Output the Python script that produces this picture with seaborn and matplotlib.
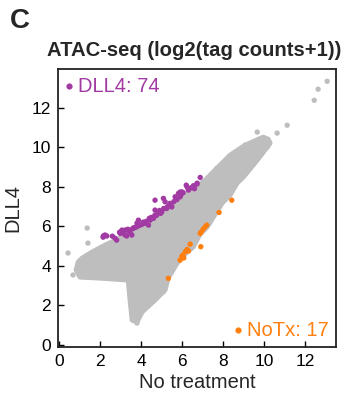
import matplotlib
matplotlib.use("Agg")
import matplotlib.pyplot as plt
import seaborn as sns
import pandas as pd

# ---- data ----
# outline of the dense grey cloud of all peaks
cloud_x = [0.93, 1.12, 1.61, 2.24, 3.07, 4.20, 5.17, 6.00, 7.12, 7.61, 8.34, 9.07, 9.95, 10.20,
           10.29, 9.66, 8.98, 8.68, 8.34, 7.95, 7.22, 6.88, 6.54, 6.24, 5.76, 5.32, 5.17, 4.68,
           4.05, 3.80, 3.56, 3.46, 3.37, 1.98, 1.02, 0.83]
cloud_y = [4.19, 4.39, 4.70, 5.05, 5.45, 5.96, 6.82, 7.47, 8.33, 8.84, 9.60, 10.10, 10.51, 10.40,
           10.20, 9.34, 8.48, 8.18, 7.58, 7.17, 5.96, 5.61, 4.95, 4.70, 4.14, 3.38, 2.78, 2.27,
           1.67, 1.16, 1.26, 2.27, 3.28, 3.38, 3.43, 3.79]

# grey points outside / on the edge of the cloud
grey_x = [13.07, 12.63, 12.44, 11.12, 10.63, 9.66, 10.20, 10.15, 9.07, 10.05, 7.70,
          0.44, 0.68, 1.37, 1.41, 5.07, 5.17, 4.44, 3.95, 3.71, 3.80]
grey_y = [13.33, 12.93, 12.37, 11.11, 10.71, 10.76, 10.25, 10.00, 10.10, 10.30, 8.94,
          4.65, 3.54, 5.91, 5.15, 2.68, 2.93, 2.27, 1.67, 1.26, 1.11]

# DLL4-specific peaks (74)
dll4_x = [6.88, 6.72, 6.20, 6.31, 5.99, 5.82, 5.90, 5.66, 4.68, 5.09, 5.17, 5.41, 5.50, 5.25,
          5.01, 4.68, 4.68, 4.60, 4.44, 4.20, 4.36, 3.87, 3.95, 3.79, 3.62, 3.46, 3.55, 3.22,
          3.06, 3.22, 3.30, 2.98, 2.81, 2.33, 2.16, 6.73, 6.24, 5.90, 6.29, 5.27, 4.83, 4.59,
          4.10, 3.80, 3.61, 3.46, 3.07, 3.12, 2.73, 2.24, 2.15, 5.95, 6.05, 6.45, 6.55, 6.60,
          5.75, 5.60, 5.35, 5.45, 5.10, 4.90, 4.95, 4.75, 4.50, 4.40, 4.25, 4.05, 3.90, 3.70,
          3.40, 3.35, 2.95, 2.60]
dll4_y = [8.47, 8.13, 8.08, 7.83, 7.74, 7.66, 7.49, 7.49, 7.32, 7.41, 7.24, 7.16, 6.98, 6.90,
          6.73, 6.82, 6.57, 6.40, 6.31, 6.15, 6.06, 6.31, 6.06, 5.97, 5.89, 5.81, 5.56, 5.81,
          5.77, 5.56, 5.51, 5.64, 5.30, 5.51, 5.51, 8.18, 8.00, 7.73, 7.90, 6.97, 6.72, 6.46,
          6.21, 6.16, 5.91, 5.71, 5.81, 5.66, 5.40, 5.56, 5.45, 7.60, 7.70, 7.95, 8.05, 7.90,
          7.35, 7.25, 7.05, 7.10, 6.90, 6.80, 6.65, 6.55, 6.45, 6.40, 6.25, 6.10, 6.05, 5.95,
          5.75, 5.85, 5.70, 5.50]

# No-treatment-specific peaks (17)
notx_x = [8.42, 7.80, 7.20, 7.12, 7.02, 6.92, 6.88, 6.39, 6.91, 6.24, 6.16, 6.31, 6.04, 5.98,
          6.08, 5.90, 5.33]
notx_y = [7.32, 6.70, 6.06, 5.97, 5.85, 5.70, 5.64, 5.10, 4.97, 4.83, 4.72, 4.75, 4.55, 4.47,
          4.40, 4.29, 3.37]

x_ticks = [0, 2, 4, 6, 8, 10, 12]
y_ticks = [0, 2, 4, 6, 8, 10, 12]
title = "ATAC-seq (log2(tag counts+1))"
x_label = "No treatment"
y_label = "DLL4"
dll4_label = "DLL4: 74"
notx_label = "NoTx: 17"

GREY = "#bebebe"
PURPLE = "#a23aa3"
ORANGE = "#ff7f0e"

sns.set_style("white")
plt.rcParams["font.family"] = ["Liberation Sans", "DejaVu Sans"]

fig = plt.figure(figsize=(3.49, 3.98), dpi=100)
ax = fig.add_axes([58 / 349, 51 / 398, 278 / 349, 278 / 398])

# grey cloud
ax.fill(cloud_x, cloud_y, color=GREY, lw=3.5, ec=GREY, joinstyle="round", zorder=1)

df = pd.concat([
    pd.DataFrame({"x": grey_x, "y": grey_y, "g": "all"}),
    pd.DataFrame({"x": dll4_x, "y": dll4_y, "g": "DLL4"}),
    pd.DataFrame({"x": notx_x, "y": notx_y, "g": "NoTx"}),
], ignore_index=True)
sns.scatterplot(data=df, x="x", y="y", hue="g",
                palette={"all": GREY, "DLL4": PURPLE, "NoTx": ORANGE},
                s=15, linewidth=0, legend=False, ax=ax, zorder=3)

ax.set_xlim(-0.05, 13.5)
ax.set_ylim(-0.1, 13.95)
ax.set_xticks(x_ticks)
ax.set_yticks(y_ticks)
ax.tick_params(direction="in", length=4, width=1, labelsize=12.5, pad=5,
               bottom=True, left=True, top=False, right=False, colors="black")
for s in ax.spines.values():
    s.set_visible(True)
    s.set_color("#222222")
    s.set_linewidth(1.3)
ax.set_xlabel(x_label, fontsize=14.5, labelpad=3)
ax.set_ylabel(y_label, fontsize=14.5, labelpad=7)

# in-plot labels
ax.scatter([0.04], [0.938], transform=ax.transAxes, s=20, color=PURPLE, lw=0, zorder=5)
ax.text(0.072, 0.936, dll4_label, transform=ax.transAxes, color=PURPLE,
        fontsize=14.5, va="center", ha="left")
ax.scatter([0.647], [0.061], transform=ax.transAxes, s=20, color=ORANGE, lw=0, zorder=5)
ax.text(0.68, 0.061, notx_label, transform=ax.transAxes, color=ORANGE,
        fontsize=14.5, va="center", ha="left")

fig.text(0.556, 0.872, title, fontsize=14.6, fontweight="bold", ha="center", va="center")
fig.text(0.029, 0.946, "C", fontsize=20, fontweight="bold", ha="left", va="center")

fig.savefig("out.png", dpi=100)
